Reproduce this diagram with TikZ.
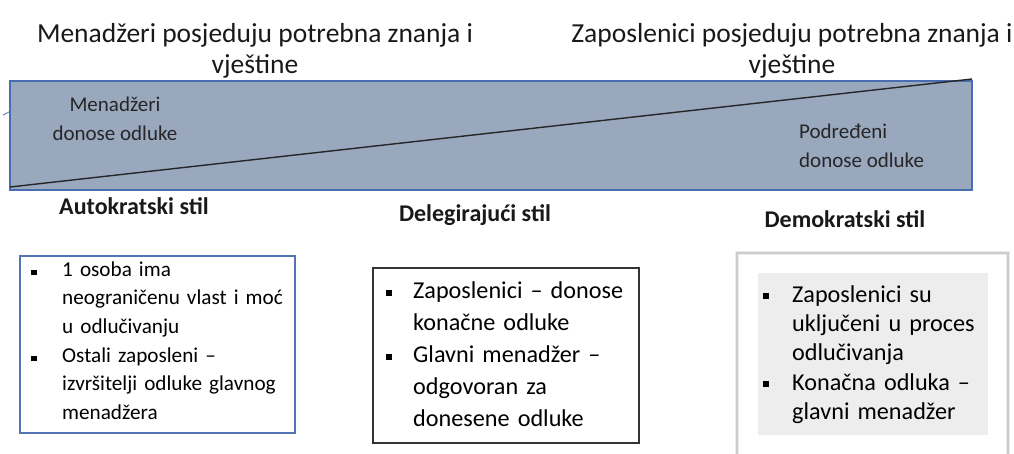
\documentclass[tikz,border=0pt]{standalone}
\usepackage{fontspec}
\setmainfont{Carlito}
\definecolor{bandfill}{HTML}{9AA8BE}
\definecolor{bandline}{HTML}{4A6CB0}
\definecolor{boxblue}{HTML}{5574B4}
\definecolor{boxdark}{HTML}{333333}
\definecolor{boxgray}{HTML}{CCCCCC}
\definecolor{shadowgray}{HTML}{EBEBEB}
\definecolor{innergray}{HTML}{EDEDED}
\tikzset{
  title/.style={font=\fontsize{27.5}{31}\selectfont, align=center, inner sep=0pt, text=black!90},
  inside/.style={font=\fontsize{21}{28.5}\selectfont, align=center, inner sep=0pt, text=black!85},
  stylelbl/.style={font=\bfseries\fontsize{24}{28}\selectfont, inner sep=0pt, text=black!90},
  itemA/.style={font=\fontsize{21.2}{28.7}\selectfont, text width=240pt, align=left, inner sep=0pt, anchor=base west},
  itemB/.style={font=\fontsize{24.2}{32.3}\selectfont, text width=225pt, align=left, inner sep=0pt, anchor=base west},
  itemC/.style={font=\fontsize{24.2}{29}\selectfont, text width=200pt, align=left, inner sep=0pt, anchor=base west},
  bul/.style={fill=black, minimum size=5.5pt, inner sep=0pt, draw=none}
}
\begin{document}
\begin{tikzpicture}[x=1pt,y=-1pt]
\useasboundingbox (0,0) rectangle (1014,453);
% top titles (base anchor = last line)
\node[title, anchor=base] (tl) at (255,73) {Menadžeri posjeduju potrebna znanja i\\vještine};
\node[title, anchor=base] (tr) at (792,73) {Zaposlenici posjeduju potrebna znanja i\\vještine};
% band
\draw[bandline, line width=1.3pt, fill=bandfill] (10,81) rectangle (972,190);
\coordinate (dl) at (10,187);
\coordinate (dr) at (972,79);
\draw[black!85, line width=1.4pt] (dl) -- (dr);
\coordinate (t1) at (3,115);
\coordinate (t2) at (9,112);
\draw[bandline!70, line width=1.2pt] (t1) -- (t2);
\node[inside, anchor=base] (md) at (115,140) {Menadžeri\\donose odluke};
\node[inside, anchor=base west, align=left] (pd) at (799,167) {Podređeni\\donose odluke};
% style labels
\node[stylelbl, anchor=base] (s1) at (134,214) {Autokratski stil};
\node[stylelbl, anchor=base] (s2) at (475,221) {Delegirajući stil};
\node[stylelbl, anchor=base] (s3) at (845,227) {Demokratski stil};
% box 1
\draw[boxblue, line width=1.1pt] (20,256) rectangle (295,433);
\node[bul] (b11) at (34,272.5) {};
\node[itemA] (a11) at (62,276) {1 osoba ima\\neograničenu vlast i moć\\u odlučivanju};
\node[bul] (b12) at (34,358.5) {};
\node[itemA] (a12) at (62,362) {Ostali zaposleni –\\izvršitelji odluke glavnog\\menadžera};
% box 2
\draw[boxdark, line width=1.1pt] (373,268) rectangle (639,443);
\node[bul] (b21) at (389,293) {};
\node[itemB] (a21) at (413,298) {Zaposlenici – donose\\konačne odluke};
\node[bul] (b22) at (389,357) {};
\node[itemB] (a22) at (413,362) {Glavni menadžer –\\odgovoran za\\donesene odluke};
% box 3
\draw[shadowgray, line width=4pt] (737,455) -- (737,253) -- (1008,253) -- (1008,455);
\draw[boxgray, line width=1.6pt] (737,455) -- (737,253) -- (1008,253) -- (1008,455);
\fill[innergray] (758,273) rectangle (988,435);
\node[bul] (b31) at (766,296) {};
\node[itemC] (a31) at (792,302) {Zaposlenici su\\uključeni u proces\\odlučivanja};
\node[bul] (b32) at (766,384) {};
\node[itemC] (a32) at (792,390) {Konačna odluka –\\glavni menadžer};
\end{tikzpicture}
\end{document}
